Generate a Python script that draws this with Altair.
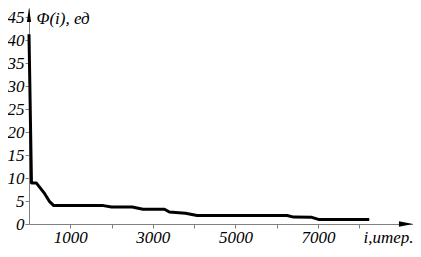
import altair as alt
import pandas as pd

# Data
iters = [0, 60, 180, 380, 500, 600, 1800, 2000, 2500, 2760, 3280, 3400, 3790, 4070, 6250, 6410, 6850, 7010, 8240]
phi = [41.3, 8.9, 8.9, 6.6, 4.85, 4.0, 4.0, 3.7, 3.7, 3.2, 3.2, 2.6, 2.35, 1.85, 1.85, 1.5, 1.45, 1.0, 1.0]

x_ticks = [1000, 2000, 3000, 4000, 5000, 6000, 7000, 8000]
y_ticks = [0, 5, 10, 15, 20, 25, 30, 35, 40, 45]
x_max = 9300
y_max = 47

x_title = "i,итер."
y_title = "Φ(i), ед"

df = pd.DataFrame({"i": iters, "phi": phi})

FONT = "Liberation Serif, Times New Roman, DejaVu Serif, serif"
GRAY = "#808080"

xs = alt.Scale(domain=[0, x_max], nice=False, zero=True)
ys = alt.Scale(domain=[0, y_max], nice=False)

x_enc = alt.X("i:Q", scale=xs, axis=alt.Axis(
    values=x_ticks, format="d", grid=False, labelOverlap=False,
    labelExpr="datum.value % 2000 == 1000 ? datum.label : ''",
    labelFont=FONT, labelFontStyle="italic", labelFontSize=17, labelColor="black",
    tickColor=GRAY, domainColor=GRAY, tickSize=4, labelPadding=1,
    title=x_title, titleFont=FONT, titleFontStyle="italic", titleFontWeight="normal",
    titleFontSize=17, titleColor="black", titleAnchor="end", titleAlign="right",
    titleBaseline="top", titleX=384, titleY=5))
y_enc = alt.Y("phi:Q", scale=ys, axis=alt.Axis(
    values=y_ticks, grid=False, labelOverlap=False,
    labelFont=FONT, labelFontStyle="italic", labelFontSize=17, labelColor="black",
    tickColor=GRAY, domainColor=GRAY, tickSize=4, labelPadding=1,
    title=y_title, titleFont=FONT, titleFontStyle="italic", titleFontWeight="normal",
    titleFontSize=17, titleColor="black", titleAngle=0, titleAlign="left",
    titleBaseline="top", titleX=7, titleY=2))

line = alt.Chart(df).mark_line(color="black", strokeWidth=3, strokeJoin="round").encode(
    x=x_enc, y=y_enc)

arrow_up = alt.Chart(pd.DataFrame({"i": [0], "phi": [y_max]})).mark_point(
    shape="M0,-1 L-0.3,1 L0.3,1 Z", filled=True, color="black", opacity=1, size=200,
    yOffset=7
).encode(x=x_enc, y=y_enc)

arrow_right = alt.Chart(pd.DataFrame({"i": [x_max], "phi": [0]})).mark_point(
    shape="M1,0 L-1,-0.4 L-1,0.4 Z", filled=True, color="black", opacity=1, size=200,
    xOffset=-7
).encode(x=x_enc, y=y_enc)

chart = alt.layer(line, arrow_up, arrow_right).properties(
    width=384, height=216,
    autosize=alt.AutoSizeParams(type="none"),
    padding={"left": 21, "top": 0, "right": 0, "bottom": 22},
).configure_view(stroke=None)

chart.save("out.html", embed_options={"renderer": "svg", "actions": False})
